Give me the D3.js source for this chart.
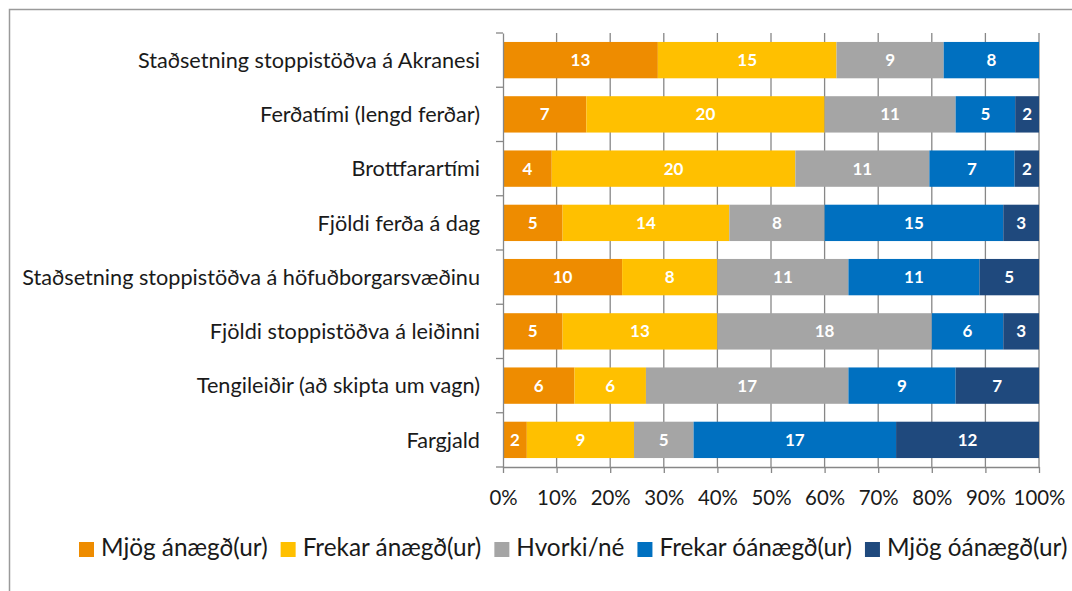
<!DOCTYPE html>
<html><head><meta charset="utf-8">
<script src="https://cdn.jsdelivr.net/npm/d3@7"></script>
<style>body{margin:0;background:#fff}svg{display:block}text{font-family:Lato,"Open Sans",sans-serif}</style>
</head><body><svg id="c" width="1072" height="591"></svg>
<script>
const categories = ["Staðsetning stoppistöðva á Akranesi","Ferðatími (lengd ferðar)","Brottfarartími","Fjöldi ferða á dag","Staðsetning stoppistöðva á höfuðborgarsvæðinu","Fjöldi stoppistöðva á leiðinni","Tengileiðir (að skipta um vagn)","Fargjald"];
const seriesNames = ["Mjög ánægð(ur)","Frekar ánægð(ur)","Hvorki/né","Frekar óánægð(ur)","Mjög óánægð(ur)"];
const mjogAnaegd   = [13,7,4,5,10,5,6,2];
const frekarAnaegd = [15,20,20,14,8,13,6,9];
const hvorki       = [9,11,11,8,11,18,17,5];
const frekarOanaegd= [8,5,7,15,11,6,9,17];
const mjogOanaegd  = [0,2,2,3,5,3,7,12];
const tickLabels = ["0%","10%","20%","30%","40%","50%","60%","70%","80%","90%","100%"];
const colors = ["#EE8C00","#FFC000","#A5A5A5","#0070C0","#1F497D"];

const seriesVals=[mjogAnaegd,frekarAnaegd,hvorki,frekarOanaegd,mjogOanaegd];
const rows = categories.map((c,i)=>{const o={cat:c};seriesNames.forEach((s,j)=>o[s]=seriesVals[j][i]);return o;});
const stack = d3.stack().keys(seriesNames).offset(d3.stackOffsetExpand)(rows);

const svg=d3.select("#c");
function textW(str,size,weight){
  const t=svg.append("text").attr("font-size",size).attr("font-weight",weight||"normal").text(str);
  const w=t.node().getComputedTextLength(); t.remove(); return w;
}
const catSize=20*458/textW("Staðsetning stoppistöðva á höfuðborgarsvæðinu",20);
const tickSize=20*40/textW("10%",20);
const legSize=20*827/d3.sum(seriesNames,n=>textW(n,20));

// frame
svg.append("path").attr("d","M9.5,591 L9.5,9.5 L1072,9.5").attr("fill","none").attr("stroke","#9a9a9a").attr("stroke-width",1.5);

const x=d3.scaleLinear().domain([0,1]).range([503,1039]);
const y=d3.scaleBand().domain(categories).range([33,467]).paddingInner(0.33).paddingOuter(0.165);

// gridlines
svg.append("g").selectAll("line").data(d3.range(1,11).map(d=>d/10)).join("line")
 .attr("x1",d=>x(d)).attr("x2",d=>x(d)).attr("y1",33).attr("y2",467).attr("stroke","#878787").attr("stroke-width",1.3);

const g=svg.append("g");
stack.forEach((s,j)=>{
  g.append("g").selectAll("rect").data(s).join("rect")
   .attr("x",d=>x(d[0])).attr("width",d=>x(d[1])-x(d[0]))
   .attr("y",d=>y(d.data.cat)).attr("height",y.bandwidth()).attr("fill",colors[j]);
  g.append("g").selectAll("text").data(s.filter(d=>d.data[seriesNames[j]]>0)).join("text")
   .attr("x",d=>(x(d[0])+x(d[1]))/2).attr("y",d=>y(d.data.cat)+y.bandwidth()/2).attr("dy","0.36em")
   .attr("text-anchor","middle")
   .attr("fill","#fff").attr("font-weight","bold").attr("font-size",17)
   .text(d=>d.data[seriesNames[j]]);
});

// y axis
const ya=svg.append("g").attr("transform","translate(503,0)").call(d3.axisLeft(y).tickSize(0).tickPadding(23));
ya.select(".domain").attr("stroke","#878787").attr("stroke-width",1.3);
ya.selectAll("text").attr("font-size",catSize).attr("fill","#1a1a1a").attr("dy","0.36em");
svg.append("g").selectAll("line").data(d3.range(9)).join("line")
 .attr("x1",496).attr("x2",503).attr("y1",i=>33+i*(434/8)).attr("y2",i=>33+i*(434/8)).attr("stroke","#878787").attr("stroke-width",1.3);

// x axis
const xa=svg.append("g").attr("transform","translate(0,467)").call(d3.axisBottom(x).tickValues(d3.range(0,11).map(d=>d/10)).tickFormat((d,i)=>tickLabels[i]).tickSize(6).tickSizeOuter(0));
xa.selectAll("path,line").attr("stroke","#878787").attr("stroke-width",1.3);
xa.selectAll("text").attr("font-size",tickSize).attr("fill","#1a1a1a").attr("y",38).attr("dy",0);

// legend (flow layout)
let lx=79;
seriesNames.forEach((name,i)=>{
  const gg=svg.append("g").attr("transform",`translate(${lx},542)`);
  gg.append("rect").attr("width",15).attr("height",15).attr("fill",colors[i]);
  const t=gg.append("text").attr("x",22).attr("y",14).attr("font-size",legSize).attr("fill","#1a1a1a").text(name);
  lx+=22+t.node().getComputedTextLength()+13;
});
</script></body></html>
